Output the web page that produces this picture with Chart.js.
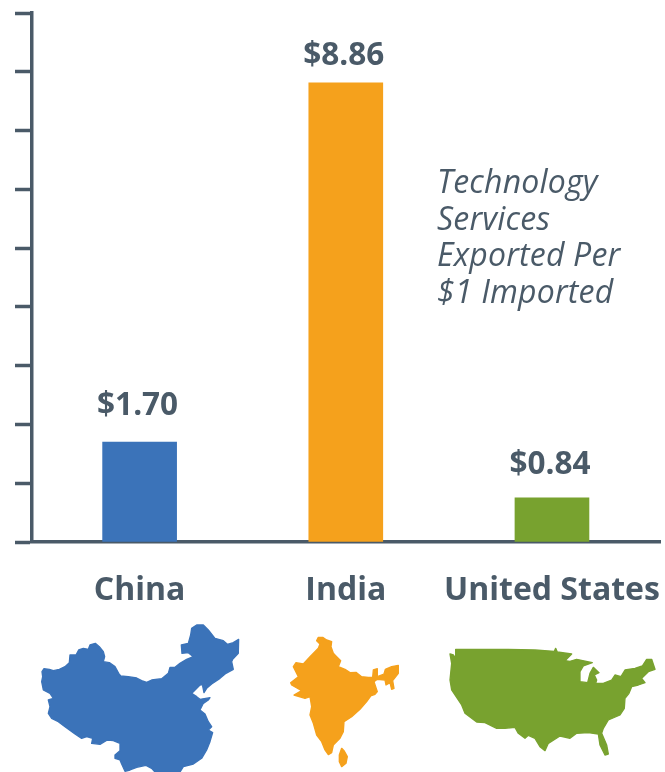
<!DOCTYPE html>
<html>
<head>
<meta charset="utf-8">
<title>Technology services exported per $1 imported</title>
<script src="https://cdn.jsdelivr.net/npm/chart.js@4/dist/chart.umd.min.js"></script>
<style>
  html, body { margin: 0; padding: 0; background: #fff; }
  #wrap { position: relative; width: 665px; height: 772px; overflow: hidden; }
  #wrap canvas { position: absolute; left: 0; top: 0; }
  #maps { position: absolute; left: 0; top: 0; }
  #maps path { stroke-width: 4; stroke-linejoin: round; }
  #note {
    position: absolute; left: 437px; top: 163px;
    font: italic 32px/36.5px "Open Sans", sans-serif;
    letter-spacing: 0.2px;
    color: #4a5a68; white-space: nowrap;
  }
</style>
</head>
<body>
<div id="wrap">
  <canvas id="chart" width="665" height="772"></canvas>
  <div id="note">Technology<br>Services<br>Exported Per<br>$1 Imported</div>
  <!-- country silhouettes, traced by hand -->
  <svg id="maps" width="665" height="772" viewBox="0 0 665 772">
    <g transform="translate(20 610) scale(0.3333)" fill="#3b73b9" stroke="#3b73b9">
      <path d="M66 185L72 176 88 178 100 182 118 178 135 170 148 158 150 135 168 135 176 120 190 115 205 118 210 105 226 100 238 110 250 125 254 140 250 155 268 158 285 170 296 190 302 198 325 200 350 204 365 212 380 217 395 210 425 206 445 190 450 172 465 172 480 160 500 148 520 140 505 128 486 130 484 105 505 100 512 75 515 55 530 45 550 45 565 60 585 85 610 92 622 103 640 98 656 88 655 130 638 148 635 155 640 178 618 190 600 205 575 222 560 235 552 248 548 228 557 222 540 225 520 245 515 250 530 260 540 268 570 263 565 270 550 280 540 300 555 312 565 335 575 350 565 360 578 368 570 395 560 420 545 445 520 462 490 470 480 486 405 486 395 475 378 466 350 472 330 480 315 484 305 462 300 450 285 445 285 435 300 422 300 400 280 392 262 390 240 403 215 400 218 385 200 380 185 385 165 372 135 350 115 335 95 325 85 310 90 290 85 270 100 265 90 250 70 240 65 215 68 200Z"/>
    </g>
    <g transform="translate(270 620) scale(0.3333)" fill="#f5a11c" stroke="#f5a11c">
      <path d="M145 52L158 52 170 60 185 65 183 80 190 100 200 110 212 122 205 140 225 148 240 158 258 157 275 170 295 172 308 172 310 150 322 146 322 170 342 162 346 148 365 140 385 136 385 160 368 182 372 205 365 208 360 188 348 195 345 180 322 178 312 185 322 215 315 223 302 228 290 245 270 268 245 290 222 305 220 335 210 355 190 375 185 398 175 404 165 390 155 365 140 345 130 310 120 285 125 260 120 230 105 235 72 225 95 212 65 195 62 188 85 170 70 140 78 128 100 132 120 110 145 85 150 72 140 62Z"/>
      <path d="M215 385L222 392 232 410 228 430 215 440 208 425 208 405Z"/>
    </g>
    <g transform="translate(435 630) scale(0.3333)" fill="#78a22f" stroke="#78a22f">
      <path d="M62 58L200 58 300 60 358 64 362 55 367 66 410 72 390 92 405 94 425 88 472 98 445 108 435 125 435 155 458 158 465 130 475 112 492 128 478 135 485 150 482 160 505 160 530 150 540 135 558 140 570 120 600 115 622 108 635 88 650 88 660 118 640 125 620 145 630 158 610 165 590 170 582 190 570 205 568 235 555 255 520 270 505 295 500 310 515 345 520 372 510 375 495 345 490 312 460 308 425 310 405 325 375 318 340 340 330 362 315 350 300 325 280 316 270 325 250 310 240 292 210 295 185 295 150 278 125 276 90 250 80 225 50 180 45 150 50 100 45 72 55 75 62 85Z"/>
    </g>
  </svg>
</div>
<script>
const categories = ["China", "India", "United States"];
// bar heights as drawn, read against the axis ticks (the picture's India bar is shorter than its label)
const barHeights = [1.70, 7.81, 0.75];
const valueLabels = ["$1.70", "$8.86", "$0.84"];
const barColors = ["#3b73b9", "#f5a11c", "#78a22f"];
const yTicks = [0, 1, 2, 3, 4, 5, 6, 7, 8, 9];
const labelGaps = [36, 27, 33];

const axisColor = "#4a5a68";
const fontFamily = "'Open Sans', sans-serif";

const valueLabelPlugin = {
  id: "valueLabels",
  afterDatasetsDraw(chart) {
    const {ctx} = chart;
    const bars = chart.getDatasetMeta(0).data;
    ctx.save();
    ctx.font = `bold 31.5px ${fontFamily}`;
    ctx.fillStyle = axisColor;
    ctx.textAlign = "center";
    ctx.textBaseline = "middle";
    bars.forEach((bar, i) => {
      ctx.fillText(valueLabels[i], bar.x - 2, bar.y - labelGaps[i]);
    });
    ctx.restore();
  },
};

new Chart(document.getElementById("chart"), {
  type: "bar",
  data: {
    datasets: [{
      data: barHeights.map((y, x) => ({x, y})),
      backgroundColor: barColors,
      barThickness: 74,
    }],
  },
  options: {
    responsive: false,
    animation: false,
    layout: {padding: {left: 14, right: 5, top: 13, bottom: 0}},
    plugins: {legend: {display: false}, tooltip: {enabled: false}},
    scales: {
      x: {
        type: "linear",
        offset: false,
        min: -0.522,
        max: 2.524,
        afterBuildTicks: scale => {
          scale.ticks = categories.map((c, i) => ({value: i}));
        },
        afterFit: scale => {
          scale.height = 230;
          // the long last label must not shrink the plot
          scale.paddingLeft = 0;
          scale.paddingRight = 0;
        },
        ticks: {
          includeBounds: false,
          autoSkip: false,
          maxRotation: 0,
          padding: 22,
          color: axisColor,
          font: {family: fontFamily, size: 32, weight: "bold"},
          callback: value => categories[value],
        },
        grid: {display: false, offset: false},
        border: {color: axisColor, width: 3.5},
      },
      y: {
        min: 0,
        max: 9,
        afterBuildTicks: scale => {
          scale.ticks = yTicks.map(value => ({value}));
        },
        afterFit: scale => {
          scale.width = 18;
        },
        ticks: {display: false},
        grid: {drawOnChartArea: false, tickLength: 17, tickWidth: 3.5, tickColor: axisColor},
        border: {color: axisColor, width: 3.5},
      },
    },
  },
  plugins: [valueLabelPlugin],
});
</script>
</body>
</html>
